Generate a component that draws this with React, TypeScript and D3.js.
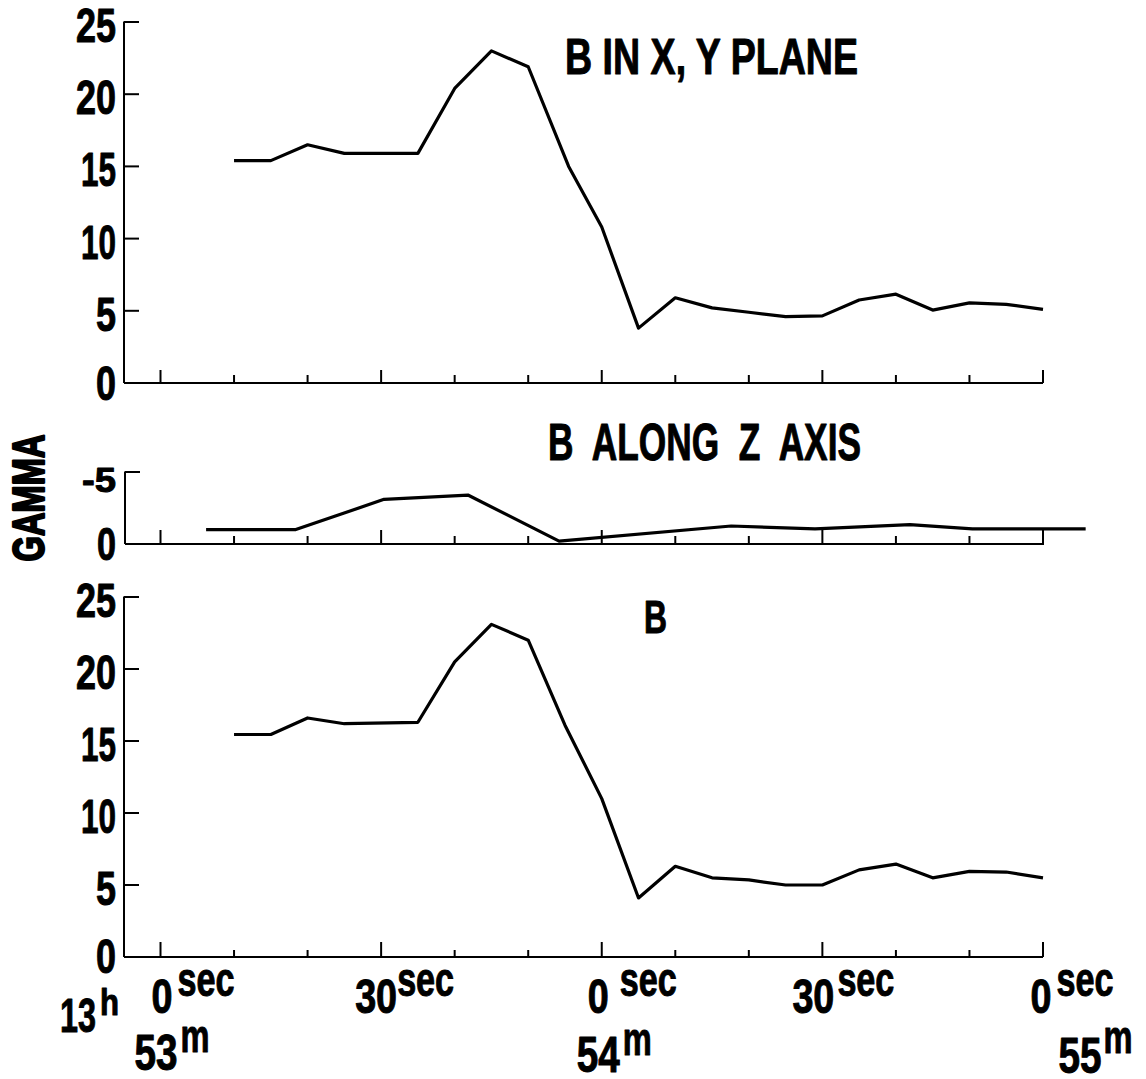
import React from "react";
import * as d3 from "d3";

// ---------- DATA ----------
// time in seconds after 13h 53m 00s
const xyTimes = [10, 15, 20, 25, 35, 40, 45, 50, 55.5, 60, 65, 70, 75, 80, 85, 90, 95, 100, 105, 110, 115, 120];
const xyValues = [15.4, 15.4, 16.5, 15.9, 15.9, 20.4, 23.0, 21.9, 15.0, 10.8, 3.8, 5.9, 5.2, 4.9, 4.6, 4.65, 5.75, 6.15, 5.05, 5.55, 5.45, 5.1];

const zTimes = [6.2, 18.4, 30.4, 41.8, 54.2, 77.6, 89, 101.9, 110.4, 125.8];
const zValues = [-1.0, -1.0, -3.1, -3.4, -0.2, -1.25, -1.05, -1.35, -1.05, -1.05];

const bTimes = [10, 15, 20, 25, 35, 40, 45, 50, 55, 60, 65, 70, 75, 80, 85, 90, 95, 100, 105, 110, 115, 120];
const bValues = [15.45, 15.45, 16.6, 16.2, 16.3, 20.5, 23.1, 22.0, 16.1, 11.0, 4.1, 6.3, 5.5, 5.35, 5.0, 5.0, 6.05, 6.45, 5.5, 5.95, 5.9, 5.5];

const mainYTicks = [0, 5, 10, 15, 20, 25];
const zYTicks = [0, -5];
const xTickSeconds = d3.range(0, 121, 10);
const secTickValues = [0, 30, 60, 90, 120];
const secTickText = ["0", "30", "0", "30", "0"];
const minuteTickValues = [0, 60, 120];
const minuteTickText = ["53", "54", "55"];

const titleXY = "B IN X, Y PLANE";
const titleZ = "B  ALONG  Z  AXIS";
const titleB = "B";
const yLabel = "GAMMA";

// ---------- LAYOUT ----------
const FONT = "'Liberation Sans Narrow','Liberation Sans',Arial,sans-serif";
const W = 1146;
const H = 1079;

const x = d3.scaleLinear().domain([0, 120]).range([160.5, 1043]);
const yTop = d3.scaleLinear().domain([0, 25]).range([383, 22]);
const yMid = d3.scaleLinear().domain([0, -5]).range([544, 472]);
const yBot = d3.scaleLinear().domain([0, 25]).range([957, 597]);

const secLayout = [
  { dx: 1.5, gap: 5 },
  { dx: -5, gap: 0 },
  { dx: -3.5, gap: 11 },
  { dx: -9, gap: 3 },
  { dx: -2, gap: 5 },
];
const minLayout = [
  { dx: -4.5, base: 1070, mBase: 1052, gap: 3 },
  { dx: -3.5, base: 1072, mBase: 1055, gap: 3 },
  { dx: 37, base: 1073, mBase: 1053, gap: 2 },
];

function digitWidth(s: string, w = 20, w1 = 15) {
  let t = 0;
  for (const c of s) t += c === "1" ? w1 : c === "-" ? 13 : w;
  return t;
}

function T(props: any) {
  const { x: px, y: py, size, len, anchor = "start", children, transform, pre, weight = 1 } = props;
  return (
    <text
      x={px}
      y={py}
      fontSize={size}
      fontFamily={FONT}
      fontWeight="bold"
      textAnchor={anchor}
      textLength={len}
      lengthAdjust="spacingAndGlyphs"
      transform={transform}
      fill="#000"
      stroke="#000"
      strokeWidth={weight}
      strokeLinejoin="round"
      style={pre ? { whiteSpace: "pre" } : undefined}
    >
      {children}
    </text>
  );
}

function Panel(props: any) {
  const { y, times, values, ticks, axisY, majorLen, minorLen, axisX0, axisX1 } = props;
  const line = d3
    .line<number>()
    .x((_, i) => x(times[i]))
    .y((d) => y(d));
  return (
    <g>
      <line x1={axisX0} x2={axisX0} y1={y(ticks[ticks.length - 1]) - 0.5} y2={axisY} stroke="#000" strokeWidth={2} />
      <line x1={axisX0} x2={axisX1} y1={axisY} y2={axisY} stroke="#000" strokeWidth={2} />
      {ticks
        .filter((t: number) => t !== 0)
        .map((t: number) => (
          <line key={"yt" + t} x1={axisX0} x2={axisX0 + 15} y1={y(t)} y2={y(t)} stroke="#000" strokeWidth={2} />
        ))}
      {xTickSeconds.map((s) => (
        <line
          key={"xt" + s}
          x1={x(s)}
          x2={x(s)}
          y1={axisY}
          y2={axisY - (s % 30 === 0 ? majorLen : minorLen)}
          stroke="#000"
          strokeWidth={2}
        />
      ))}
      <path d={line(values) || ""} fill="none" stroke="#000" strokeWidth={3.2} strokeLinejoin="round" />
    </g>
  );
}

export default function App() {
  return (
    <svg
      width={W}
      height={H}
      viewBox={`0 0 ${W} ${H}`}
      style={{ position: "absolute", left: 0, top: 0, background: "#fff" }}
    >
      <rect x={0} y={0} width={W} height={H} fill="#fff" />

      {/* Top panel */}
      <Panel y={yTop} times={xyTimes} values={xyValues} ticks={mainYTicks} axisY={383} majorLen={13} minorLen={8} axisX0={124} axisX1={1043} />
      {mainYTicks.map((t) => (
        <T key={"tl" + t} x={116} y={yTop(t) + (t === 0 ? 17 : 20)} size={49} len={digitWidth(String(t))} anchor="end">
          {String(t)}
        </T>
      ))}
      <T x={565} y={74} size={50} len={293}>{titleXY}</T>

      {/* Middle panel */}
      <Panel y={yMid} times={zTimes} values={zValues} ticks={zYTicks} axisY={544} majorLen={14} minorLen={8} axisX0={125} axisX1={1044} />
      <T x={116} y={yMid(-5) + 20} size={35} len={34} anchor="end">-5</T>
      <T x={116} y={yMid(0) + 16} size={46} len={19} anchor="end">0</T>
      <T x={548} y={460} size={51} len={313} pre>{titleZ}</T>

      {/* GAMMA */}
      <T x={0} y={0} size={44} len={127} anchor="middle" weight={2.2} transform="translate(43.5,498) rotate(-90)">
        {yLabel}
      </T>

      {/* Bottom panel */}
      <Panel y={yBot} times={bTimes} values={bValues} ticks={mainYTicks} axisY={957} majorLen={15} minorLen={7} axisX0={124} axisX1={1043} />
      {mainYTicks.map((t) => (
        <T key={"bl" + t} x={116} y={yBot(t) + (t === 0 ? 16 : 20)} size={49} len={digitWidth(String(t))} anchor="end">
          {String(t)}
        </T>
      ))}
      <T x={644} y={633} size={46} len={23}>{titleB}</T>

      {/* X axis time labels */}
      <T x={60} y={1032} size={49} len={36}>13</T>
      <T x={100} y={1015} size={37} len={19}>h</T>
      {secTickValues.map((s, i) => {
        const txt = secTickText[i];
        const w = digitWidth(txt, 21, 21);
        const cx = x(s) + secLayout[i].dx;
        return (
          <g key={"sec" + s}>
            <T x={cx} y={1013} size={49} len={w} anchor="middle">{txt}</T>
            <T x={cx + w / 2 + secLayout[i].gap} y={996} size={48} len={57}>sec</T>
          </g>
        );
      })}
      {minuteTickValues.map((s, i) => {
        const txt = minuteTickText[i];
        const w = 43;
        const cx = x(s) + minLayout[i].dx;
        return (
          <g key={"min" + s}>
            <T x={cx} y={minLayout[i].base} size={50} len={w} anchor="middle">{txt}</T>
            <T x={cx + w / 2 + minLayout[i].gap} y={minLayout[i].mBase} size={46} len={29}>m</T>
          </g>
        );
      })}
    </svg>
  );
}
